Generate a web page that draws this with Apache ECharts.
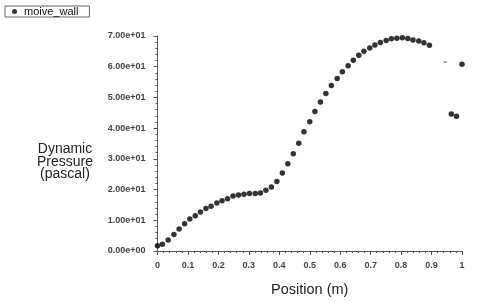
<!DOCTYPE html>
<html><head><meta charset="utf-8">
<script src="https://cdn.jsdelivr.net/npm/echarts@6/dist/echarts.min.js"></script>
<style>html,body{margin:0;padding:0;background:#fff}#c{width:480px;height:302px}</style>
</head><body><div id="c"></div>
<script>
var seriesName = 'moive_wall';
var positions = [0,0.016,0.035,0.054,0.071,0.089,0.106,0.124,0.141,0.159,0.176,0.195,0.212,0.230,0.248,0.266,0.284,0.302,0.321,0.338,0.356,0.374,0.392,0.410,0.428,0.446,0.464,0.481,0.500,0.517,0.535,0.553,0.571,0.590,0.607,0.626,0.643,0.661,0.678,0.697,0.714,0.732,0.751,0.768,0.786,0.804,0.822,0.839,0.858,0.875,0.893,0.965,0.982,1.0];
var pressures = [1.7,2.2,3.6,5.4,7.2,8.9,10.4,11.5,12.7,13.8,14.6,15.6,16.4,17.0,17.9,18.2,18.5,18.7,18.7,18.9,19.8,20.8,22.6,25.4,28.4,31.7,35.1,38.8,42.1,45.4,48.5,51.3,53.9,56.2,58.4,60.3,62.1,63.7,65.0,66.1,67.1,67.9,68.5,69.1,69.3,69.4,69.2,68.7,68.4,67.8,67.0,44.6,43.9,60.8];
var faintPositions = [0.945];
var faintPressures = [61.5];
var yTickLabels = ['0.00e+00','1.00e+01','2.00e+01','3.00e+01','4.00e+01','5.00e+01','6.00e+01','7.00e+01'];
var xTickLabels = ['0','0.1','0.2','0.3','0.4','0.5','0.6','0.7','0.8','0.9','1'];
var xTitle = 'Position (m)';
var yTitle = 'Dynamic\nPressure\n(pascal)';

var font = 'Liberation Sans, Arial, sans-serif';
var chart = echarts.init(document.getElementById('c'));
chart.setOption({
  animation: false,
  backgroundColor: '#fff',
  legend: {
    left: 5, top: 6,
    data: [{name: seriesName, icon: 'circle'}],
    itemWidth: 5, itemHeight: 5, itemGap: 0,
    borderColor: '#666', borderWidth: 1, borderRadius: 0,
    padding: [0, 11, 0, 7],
    textStyle: {fontFamily: font, fontSize: 11, color: '#111', lineHeight: 9, padding: [0,0,0,2]}
  },
  grid: {left: 157.5, right: 18, top: 36, bottom: 44, containLabel: false},
  xAxis: {
    type: 'value', min: 0, max: 1, interval: 0.1,
    axisLine: {show: true, lineStyle: {color: '#555', width: 1}},
    axisTick: {show: true, length: 4, lineStyle: {color: '#555'}},
    minorTick: {show: true, splitNumber: 5, length: 2, lineStyle: {color: '#555'}},
    splitLine: {show: false},
    axisLabel: {fontFamily: font, fontSize: 9, fontWeight: 'bold', color: '#444', margin: 10,
      formatter: function (v) { return xTickLabels[Math.round(v * 10)]; }},
    name: xTitle, nameLocation: 'middle', nameGap: 31,
    nameTextStyle: {fontFamily: font, fontSize: 14.5, color: '#222'}
  },
  yAxis: {
    type: 'value', min: 0, max: 70, interval: 10,
    axisLine: {show: true, lineStyle: {color: '#555', width: 1}},
    axisTick: {show: true, length: 4, lineStyle: {color: '#555'}},
    minorTick: {show: true, splitNumber: 5, length: 2, lineStyle: {color: '#555'}},
    splitLine: {show: false},
    axisLabel: {fontFamily: font, fontSize: 9, fontWeight: 'bold', color: '#444', margin: 12,
      formatter: function (v) { return yTickLabels[Math.round(v / 10)]; }}
  },
  graphic: [{
    type: 'text', x: 65, y: 143,
    style: {text: yTitle, font: '14px ' + font, fill: '#222', textAlign: 'center', textVerticalAlign: 'top', lineHeight: 12.5}
  }],
  series: [{
    name: seriesName, type: 'scatter', symbol: 'circle', symbolSize: 5.5,
    itemStyle: {color: '#000'},
    data: positions.map(function (x, i) { return [x, pressures[i]]; })
  }, {
    name: 'faint', type: 'scatter', symbol: 'rect', symbolSize: [3, 1.5],
    itemStyle: {color: '#666'},
    data: faintPositions.map(function (x, i) { return [x, faintPressures[i]]; })
  }]
});
</script></body></html>
